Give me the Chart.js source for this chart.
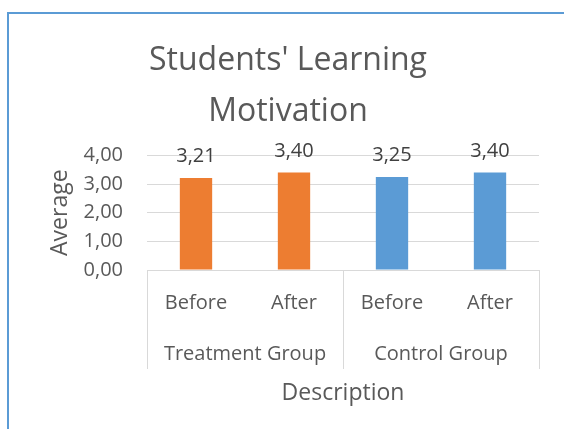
<!DOCTYPE html>
<html>
<head>
<meta charset="utf-8">
<script src="https://cdn.jsdelivr.net/npm/chart.js@4/dist/chart.umd.min.js"></script>
<style>
  body { margin: 0; background: #fff; }
  #wrap { position: relative; width: 564px; height: 429px; overflow: hidden; }
  #frame { position: absolute; left: 7px; top: 12px; width: 700px; height: 600px;
           border-left: 2px solid #5b9bd5; border-top: 2px solid #5b9bd5; }
  canvas { position: absolute; left: 0; top: 0; }
</style>
</head>
<body>
<div id="wrap">
  <div id="frame"></div>
  <canvas id="chart" width="564" height="429"></canvas>
</div>
<script>
// chart data
const categories = ['Before', 'After', 'Before', 'After'];
const groups = ['Treatment Group', 'Control Group'];
const groupOf = [0, 0, 1, 1];
const values = [3.21, 3.40, 3.25, 3.40];
const yTicks = [0, 1, 2, 3, 4];

const groupColors = ['#ed7d31', '#5b9bd5'];
const FONT = "'Open Sans', sans-serif";
const TEXT = '#595959';
const GRID = '#d9d9d9';

const fmt = v => v.toFixed(2).replace('.', ',');

// value labels above the bars
const valueLabels = {
    id: 'valueLabels',
    afterDatasetsDraw(chart) {
        const ctx = chart.ctx;
        const meta = chart.getDatasetMeta(0);
        ctx.save();
        ctx.font = `20px ${FONT}`;
        ctx.fillStyle = '#404040';
        ctx.textAlign = 'center';
        ctx.textBaseline = 'alphabetic';
        meta.data.forEach((bar, i) => {
            ctx.fillText(fmt(values[i]), bar.x, bar.y - 16);
        });
        ctx.restore();
    }
};

// second level of the category axis (group names + separators)
const groupAxis = {
    id: 'groupAxis',
    afterDraw(chart) {
        const x = chart.scales.x;
        const ctx = chart.ctx;
        const top = x.top;
        const px = i => x.getPixelForValue(i);
        ctx.save();
        ctx.strokeStyle = GRID;
        ctx.lineWidth = 1;
        ctx.font = `20px ${FONT}`;
        ctx.fillStyle = TEXT;
        ctx.textAlign = 'center';
        ctx.textBaseline = 'middle';
        groups.forEach((g, gi) => {
            const idx = groupOf.map((v, i) => v === gi ? i : -1).filter(i => i >= 0);
            const i0 = idx[0], i1 = idx[idx.length - 1];
            const left = i0 === 0 ? x.left : (px(i0 - 1) + px(i0)) / 2;
            const right = i1 === categories.length - 1 ? x.right : (px(i1) + px(i1 + 1)) / 2;
            [left, right].forEach(xx => {
                const lx = Math.round(xx) + 0.5;
                ctx.beginPath();
                ctx.moveTo(lx, top);
                ctx.lineTo(lx, top + 99);
                ctx.stroke();
            });
            ctx.fillText(g, (left + right) / 2, top + 84);
        });
        ctx.restore();
    }
};

new Chart(document.getElementById('chart').getContext('2d'), {
    type: 'bar',
    data: {
        labels: categories,
        datasets: [{
            data: values,
            backgroundColor: groupOf.map(g => groupColors[g]),
            barPercentage: 0.33,
            categoryPercentage: 1
        }]
    },
    options: {
        responsive: false,
        animation: false,
        layout: { padding: { left: 37, right: 25, top: 0, bottom: 0 } },
        plugins: {
            legend: { display: false },
            tooltip: { enabled: false },
            title: {
                display: true,
                text: ["Students' Learning", 'Motivation'],
                color: TEXT,
                font: { family: FONT, size: 32, weight: 'normal', lineHeight: 1.6 },
                padding: { top: 35.5, bottom: 17.5 }
            }
        },
        scales: {
            x: {
                grid: { display: false, drawTicks: false },
                border: { display: true, color: GRID, width: 1 },
                ticks: { color: TEXT, font: { family: FONT, size: 20 }, padding: 21, maxRotation: 0 },
                title: {
                    display: true,
                    text: 'Description',
                    color: TEXT,
                    font: { family: FONT, size: 23 },
                    padding: { top: 0, bottom: 22 }
                },
                afterFit(scale) { scale.height = 159; }
            },
            y: {
                min: yTicks[0],
                max: yTicks[yTicks.length - 1],
                afterBuildTicks(scale) { scale.ticks = yTicks.map(v => ({ value: v })); },
                grid: { color: GRID, lineWidth: 1, drawTicks: false },
                border: { display: false },
                ticks: { color: TEXT, font: { family: FONT, size: 20 }, padding: 24, callback: v => fmt(v) },
                title: {
                    display: true,
                    text: 'Average',
                    color: TEXT,
                    font: { family: FONT, size: 23 },
                    padding: { top: 10, bottom: 0 }
                },
                afterFit(scale) { scale.width = 110; }
            }
        }
    },
    plugins: [valueLabels, groupAxis]
});
</script>
</body>
</html>
